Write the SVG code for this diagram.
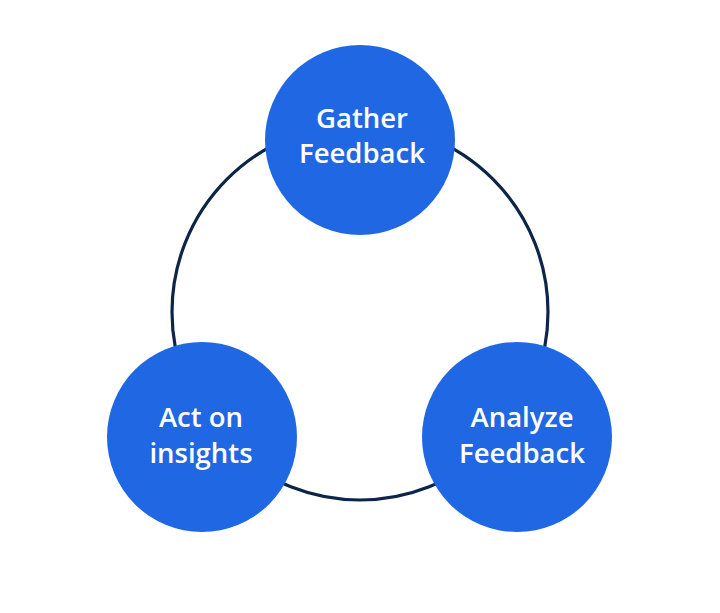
<svg xmlns="http://www.w3.org/2000/svg" width="720" height="613" viewBox="0 0 720 613">
<style>
.node{fill:#1f67e3;}
.lbl{fill:#ffffff;font-family:"Open Sans","Liberation Sans",sans-serif;font-weight:600;font-size:27.5px;text-anchor:middle;}
.ring{fill:none;stroke:#0c2548;stroke-width:3.2;}
</style>
<rect width="720" height="613" fill="#ffffff"/>
<g id="connectors">
<circle class="ring" cx="360" cy="312" r="188"/>
</g>
<g id="gather">
<circle class="node" cx="360" cy="140" r="95"/>
<text class="lbl" x="362" y="128">Gather</text>
<text class="lbl" x="362" y="163">Feedback</text>
</g>
<g id="act">
<circle class="node" cx="202" cy="437" r="95"/>
<text class="lbl" x="201" y="427">Act on</text>
<text class="lbl" x="201" y="463">insights</text>
</g>
<g id="analyze">
<circle class="node" cx="517" cy="437" r="95"/>
<text class="lbl" x="522" y="427">Analyze</text>
<text class="lbl" x="522" y="463">Feedback</text>
</g>
</svg>
